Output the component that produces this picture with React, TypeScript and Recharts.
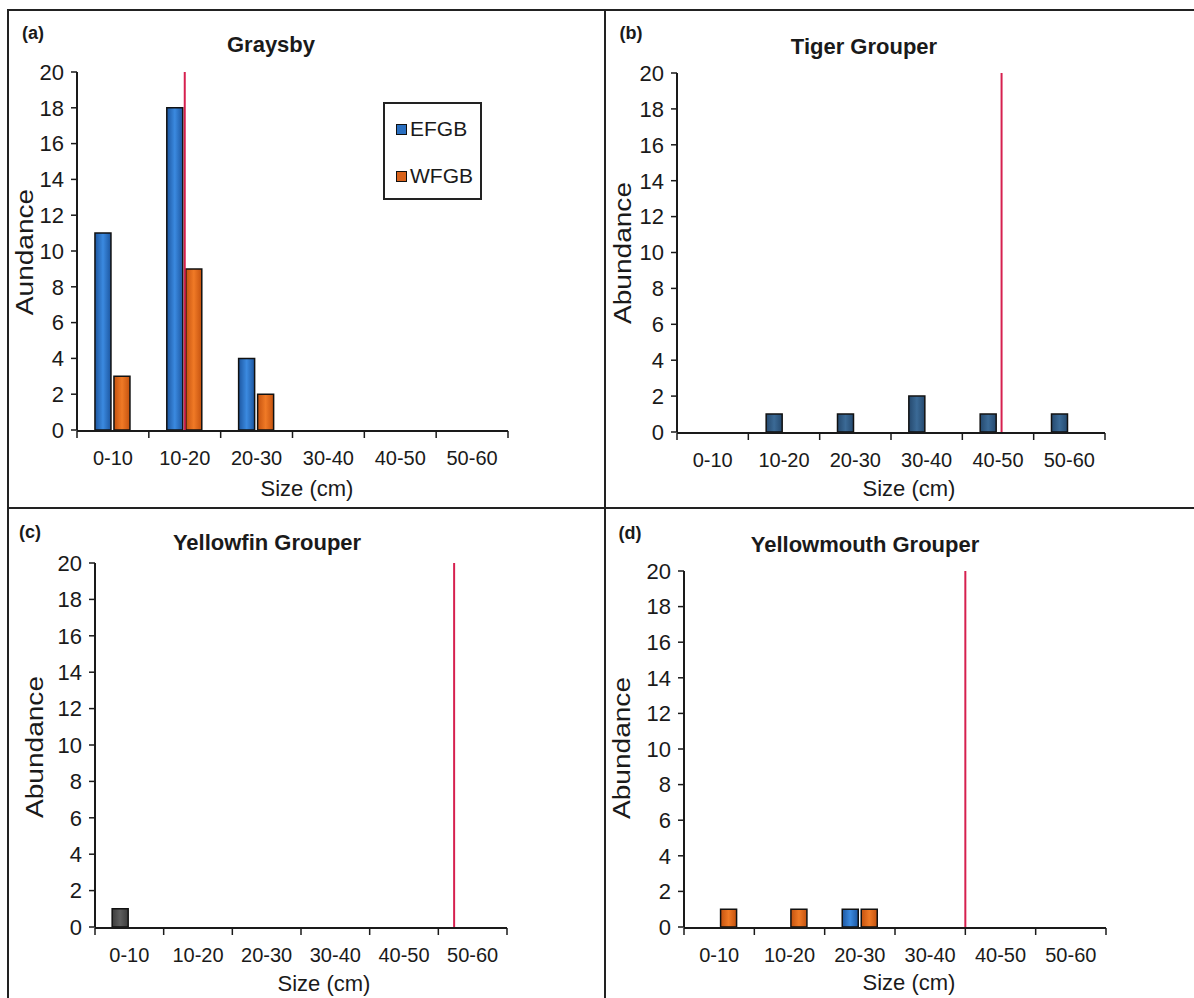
import React from "react";
import { BarChart, Bar, XAxis, YAxis, ReferenceLine } from "recharts";

// size classes (cm) shared by all four panels
const sizeClasses = ["0-10", "10-20", "20-30", "30-40", "40-50", "50-60"];
const classMids = [5, 15, 25, 35, 45, 55];
const classEdges = [0, 10, 20, 30, 40, 50, 60];
const abundanceTicks = [0, 2, 4, 6, 8, 10, 12, 14, 16, 18, 20];

// abundance per size class, EFGB vs WFGB
const graysbyEFGB = [11, 18, 4, 0, 0, 0];
const graysbyWFGB = [3, 9, 2, 0, 0, 0];
const tigerEFGB = [0, 1, 1, 2, 1, 1];
const tigerWFGB = [0, 0, 0, 0, 0, 0];
const yellowfinEFGB = [1, 0, 0, 0, 0, 0];
const yellowfinWFGB = [0, 0, 0, 0, 0, 0];
const yellowmouthEFGB = [0, 0, 1, 0, 0, 0];
const yellowmouthWFGB = [1, 1, 1, 0, 0, 0];

// red vertical marker (size in cm) per species
const markerSizes = [15, 45.5, 52.3, 40];

const FONT = '"Liberation Sans", Arial, sans-serif';
const INK = "#1a1a1a";
const Y_AXIS_W = 60;

interface PanelProps {
  id: string;
  efgb: number[];
  wfgb: number[];
  marker: number;
  px: number;
  py: number;
  pw: number;
  ph: number;
  plot: { x0: number; x1: number; y0: number; y1: number };
  efgbDark?: string;
  efgbLight?: string;
  showLegend?: boolean;
}

const LegendBox = () => (
  <div
    style={{
      position: "absolute",
      left: 375,
      top: 92,
      width: 99,
      height: 98,
      border: "2px solid #222",
      background: "#fff",
      fontFamily: FONT,
      fontSize: 21,
      color: INK,
      boxSizing: "border-box",
      paddingLeft: 11,
      paddingTop: 15,
    }}
  >
    {[
      { label: "EFGB", color: "#2a6fc0" },
      { label: "WFGB", color: "#d9631c" },
    ].map((item, i) => (
      <div key={item.label} style={{ display: "flex", alignItems: "center", marginTop: i ? 27 : 0, lineHeight: "20px" }}>
        <div style={{ width: 9, height: 9, background: item.color, border: "1px solid #111", marginRight: 3 }} />
        <span>{item.label}</span>
      </div>
    ))}
  </div>
);

function Panel(p: PanelProps) {
  const data = sizeClasses.map((c, i) => ({ size: c, mid: classMids[i], efgb: p.efgb[i], wfgb: p.wfgb[i] }));
  const margin = {
    top: p.plot.y0 - p.py,
    bottom: p.py + p.ph - p.plot.y1 - 2,
    left: p.plot.x0 - p.px - Y_AXIS_W,
    right: p.px + p.pw - p.plot.x1,
  };

  return (
    <div style={{ position: "absolute", left: p.px, top: p.py }}>
      <BarChart width={p.pw} height={p.ph} data={data} margin={margin} barCategoryGap="25%" barGap={3}>
        <defs>
          <linearGradient id={`${p.id}-blue`} x1="0" y1="0" x2="1" y2="0">
            <stop offset="0%" stopColor={p.efgbDark ?? "#1c56a0"} />
            <stop offset="50%" stopColor={p.efgbLight ?? "#3b8ae0"} />
            <stop offset="100%" stopColor={p.efgbDark ?? "#1c56a0"} />
          </linearGradient>
          <linearGradient id={`${p.id}-orange`} x1="0" y1="0" x2="1" y2="0">
            <stop offset="0%" stopColor="#c4520f" />
            <stop offset="50%" stopColor="#f07a26" />
            <stop offset="100%" stopColor="#c4520f" />
          </linearGradient>
        </defs>

        {/* category labels */}
        <XAxis
          dataKey="size"
          height={1}
          axisLine={false}
          tickLine={false}
          tickSize={6}
          tickMargin={15}
          interval={0}
          tick={{ fontSize: 20, fontFamily: FONT, fill: INK }}
        />
        {/* boundary ticks and axis line on a numeric size scale */}
        <XAxis
          xAxisId="len"
          dataKey="mid"
          type="number"
          domain={[0, 60]}
          allowDataOverflow
          ticks={classEdges}
          interval={0}
          height={1}
          tickSize={7}
          tickFormatter={() => ""}
          axisLine={{ stroke: INK, strokeWidth: 2 }}
          tickLine={{ stroke: INK, strokeWidth: 1.5 }}
        />
        <YAxis
          width={Y_AXIS_W}
          domain={[0, 20]}
          ticks={abundanceTicks}
          interval={0}
          tickSize={6}
          tickMargin={7}
          axisLine={{ stroke: INK, strokeWidth: 2 }}
          tickLine={{ stroke: INK, strokeWidth: 1.5 }}
          tick={{ fontSize: 22, fontFamily: FONT, fill: INK }}
        />

        <ReferenceLine xAxisId="len" x={p.marker} stroke="#d6204f" strokeWidth={2} ifOverflow="visible" />

        <Bar dataKey="efgb" name="EFGB" fill={`url(#${p.id}-blue)`} stroke="#111" strokeWidth={1.5} isAnimationActive={false} />
        <Bar dataKey="wfgb" name="WFGB" fill={`url(#${p.id}-orange)`} stroke="#111" strokeWidth={1.5} isAnimationActive={false} />
      </BarChart>
      {p.showLegend && <LegendBox />}
    </div>
  );
}

const Txt = ({ x, y, text, size = 21, bold = false, rotate = false }: any) => (
  <div
    style={{
      position: "absolute",
      left: x,
      top: y,
      transform: `translate(-50%, -50%)${rotate ? " rotate(-90deg) scaleX(1.22)" : ""}`,
      fontFamily: FONT,
      fontSize: size,
      fontWeight: bold ? "bold" : "normal",
      color: INK,
      whiteSpace: "nowrap",
    }}
  >
    {text}
  </div>
);

const Rule = ({ x, y, w, h }: any) => (
  <div style={{ position: "absolute", left: x, top: y, width: w, height: h, background: "#222" }} />
);

export default function App() {
  return (
    <div style={{ position: "absolute", left: 0, top: 0, width: 1194, height: 998, background: "#fff", overflow: "hidden" }}>
      <Panel
        id="a"
        efgb={graysbyEFGB}
        wfgb={graysbyWFGB}
        marker={markerSizes[0]}
        px={8}
        py={10}
        pw={597}
        ph={498}
        plot={{ x0: 77, x1: 508, y0: 72, y1: 430 }}
        showLegend
      />
      <Panel
        id="b"
        efgb={tigerEFGB}
        wfgb={tigerWFGB}
        marker={markerSizes[1]}
        px={605}
        py={10}
        pw={589}
        ph={498}
        plot={{ x0: 677, x1: 1105, y0: 73, y1: 432 }}
        efgbDark="#25496e"
        efgbLight="#3b6a96"
      />
      <Panel
        id="c"
        efgb={yellowfinEFGB}
        wfgb={yellowfinWFGB}
        marker={markerSizes[2]}
        px={8}
        py={508}
        pw={597}
        ph={490}
        plot={{ x0: 95, x1: 507, y0: 563, y1: 927 }}
        efgbDark="#3c3c3c"
        efgbLight="#5e5e5e"
      />
      <Panel
        id="d"
        efgb={yellowmouthEFGB}
        wfgb={yellowmouthWFGB}
        marker={markerSizes[3]}
        px={605}
        py={508}
        pw={589}
        ph={490}
        plot={{ x0: 684, x1: 1106, y0: 571, y1: 927 }}
      />

      {/* frame */}
      <Rule x={8} y={9} w={1186} h={2} />
      <Rule x={7} y={9} w={2} h={989} />
      <Rule x={604} y={9} w={2} h={989} />
      <Rule x={7} y={507} w={1187} h={2} />

      {/* panel (a) */}
      <Txt x={33} y={33} text="(a)" size={18} bold />
      <Txt x={271} y={45} text="Graysby" size={22} bold />
      <Txt x={25} y={252} text="Aundance" size={23} rotate />
      <Txt x={307} y={489} text="Size (cm)" size={22} />

      {/* panel (b) */}
      <Txt x={631} y={33} text="(b)" size={18} bold />
      <Txt x={864} y={47} text="Tiger Grouper" size={22} bold />
      <Txt x={623} y={253} text="Abundance" size={23} rotate />
      <Txt x={909} y={489} text="Size (cm)" size={22} />

      {/* panel (c) */}
      <Txt x={30} y={532} text="(c)" size={18} bold />
      <Txt x={267} y={543} text="Yellowfin Grouper" size={22} bold />
      <Txt x={35} y={747} text="Abundance" size={23} rotate />
      <Txt x={324} y={984} text="Size (cm)" size={22} />

      {/* panel (d) */}
      <Txt x={630} y={533} text="(d)" size={18} bold />
      <Txt x={865} y={545} text="Yellowmouth Grouper" size={22} bold />
      <Txt x={622} y={748} text="Abundance" size={23} rotate />
      <Txt x={909} y={983} text="Size (cm)" size={22} />
    </div>
  );
}
